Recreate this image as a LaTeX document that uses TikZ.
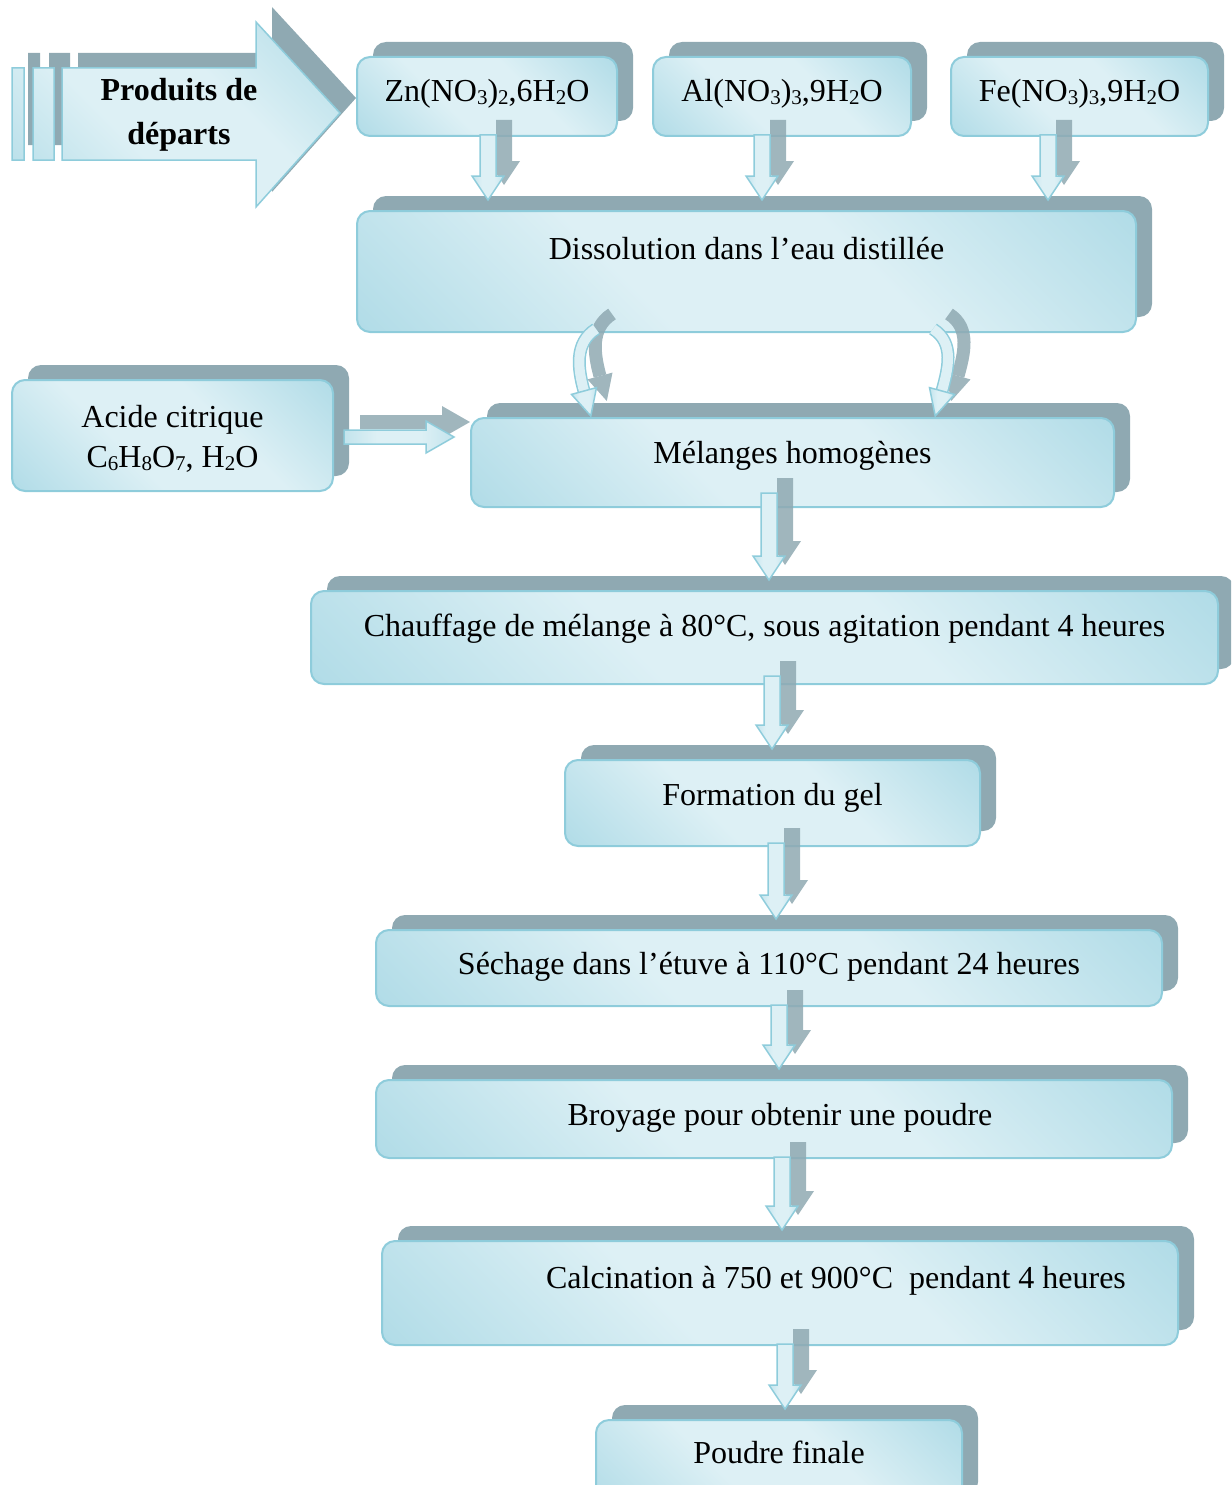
\documentclass[tikz,border=0pt]{standalone}
\usepackage{fontspec}
\setmainfont{Liberation Serif}
\usetikzlibrary{calc,shadows}
\definecolor{bleuC}{HTML}{DDF0F5}
\definecolor{bleuF}{HTML}{97D0DF}
\definecolor{bord}{HTML}{8ECCDB}
\definecolor{ombre}{HTML}{8FA9B2}
\pgfdeclarehorizontalshading{verre}{100bp}{color(0bp)=(bleuF); color(40bp)=(bleuC); color(60bp)=(bleuC); color(100bp)=(bleuF)}
\tikzset{
  boite/.style={draw=bord, line width=2pt, rounded corners=13pt, shading=verre, shading angle=45,
    general shadow={fill=ombre, shadow xshift=16pt, shadow yshift=15pt},
    font=\fontsize{32}{40}\selectfont, inner sep=0pt},
  ligne/.style={text height=22pt, text depth=#1},
  fleche/.style={draw=bord, line width=1.5pt, shading=verre, shading angle=0},
  ombrefleche/.style={fill=ombre, fill opacity=.85, transform canvas={shift={(16pt,15pt)}}},
  courbe/.style={draw=bord, line width=1.5pt, double=bleuC, double distance=10pt},
  ombrecourbe/.style={draw=ombre, draw opacity=.85, line width=13pt, transform canvas={shift={(16pt,15pt)}}},
}
% indice chimique
\newcommand\ind[1]{\raisebox{-3pt}{\fontsize{21}{21}\selectfont #1}}
% fleche verticale : [depart], source, cible, decalage en x
\newcommand\flechebas[4][2]{%
  \foreach \st in {ombrefleche,fleche}
    \path[\st] let \p1=($(#2)+(#4,0)$), \p2=(#3) in
      (\x1-8pt,\y1+#1pt) -- (\x1+8pt,\y1+#1pt) -- (\x1+8pt,\y2+34pt) -- (\x1+16pt,\y2+34pt)
      -- (\x1,\y2+10pt) -- (\x1-16pt,\y2+34pt) -- (\x1-8pt,\y2+34pt) -- cycle;
}
\begin{document}
\begin{tikzpicture}[x=1pt,y=-1pt]
\useasboundingbox (0,0) rectangle (1231,1485);
\clip (0,0) rectangle (1231,1485);

% grande fleche
\fill[ombre, transform canvas={shift={(16pt,15pt)}}] (62,68) -- (256,68) -- (256,22) -- (340,113)
  -- (256,207) -- (256,160) -- (62,160) -- cycle (12,68) rectangle (24,160) (33,68) rectangle (54,160);
\path[fleche, shading angle=45] (62,68) -- (256,68) -- (256,22) -- (340,113)
  -- (256,207) -- (256,160) -- (62,160) -- cycle (12,68) rectangle (24,160) (33,68) rectangle (54,160);
\node[font=\fontsize{32}{44}\selectfont\bfseries, align=center] (produits) at (179,115) {Produits de\\départs};

\node[boite, ligne=11pt, minimum width=260pt, minimum height=79pt] (zn) at (487,96.5) {Zn(NO\ind{3})\ind{2},6H\ind{2}O};
\node[boite, ligne=11pt, minimum width=258pt, minimum height=79pt] (al) at (782,96.5) {Al(NO\ind{3})\ind{3},9H\ind{2}O};
\node[boite, ligne=11pt, minimum width=257pt, minimum height=79pt] (fe) at (1079.5,96.5) {Fe(NO\ind{3})\ind{3},9H\ind{2}O};
\node[boite, ligne=47pt, minimum width=779pt, minimum height=121pt] (dissol) at (746.5,271.5) {Dissolution dans l’eau distillée};
\node[boite, align=center, minimum width=321pt, minimum height=111pt] (acide) at (172.5,435.5) {\rule{0pt}{28pt}Acide citrique\\C\ind{6}H\ind{8}O\ind{7}, H\ind{2}O};
\node[boite, ligne=21pt, minimum width=643pt, minimum height=89pt] (melange) at (792.5,462.5) {Mélanges homogènes};
\node[boite, ligne=25pt, minimum width=907pt, minimum height=93pt] (chauffe) at (764.5,637.5) {Chauffage de mélange à 80°C, sous agitation pendant 4 heures};
\node[boite, ligne=18pt, minimum width=415pt, minimum height=86pt] (gel) at (772.5,803) {Formation du gel};
\node[boite, ligne=10pt, minimum width=786pt, minimum height=76pt] (sechage) at (769,968) {Séchage dans l’étuve à 110°C pendant 24 heures};
\node[boite, ligne=10pt, minimum width=796pt, minimum height=78pt] (broyage) at (774,1119) {\hspace*{12pt}Broyage pour obtenir une poudre};
\node[boite, ligne=32pt, minimum width=796pt, minimum height=104pt] (calcin) at (780,1293) {\hspace*{112pt}Calcination à 750 et 900°C\ \ pendant 4 heures};
\node[boite, ligne=26pt, minimum width=366pt, minimum height=90pt] (poudre) at (779,1465) {Poudre finale};

\flechebas{zn.south}{dissol.north}{1}
\flechebas{al.south}{dissol.north}{-20}
\flechebas{fe.south}{dissol.north}{-31.5}
\flechebas[15]{melange.south}{chauffe.north}{-23.5}
\flechebas[9]{chauffe.south}{gel.north}{7.5}
\flechebas[4]{gel.south}{sechage.north}{3.5}
\flechebas{sechage.south}{broyage.north}{10}
\flechebas{broyage.south}{calcin.north}{8}
\flechebas{calcin.south}{poudre.north}{5}

% acide -> melanges
\foreach \st in {ombrefleche,fleche}
  \path[\st] let \p1=($(acide.east)+(10,1.5)$), \p2=($(melange.west)+(-16,0)$) in
    (\x1,\y1-7pt) -- (\x2-28pt,\y1-7pt) -- (\x2-28pt,\y1-16pt) -- (\x2,\y1)
    -- (\x2-28pt,\y1+16pt) -- (\x2-28pt,\y1+7pt) -- (\x1,\y1+7pt) -- cycle;

% fleches courbes
\coordinate (fg) at ($(melange.north)+(-208.5,-26)$);
\coordinate (fd) at ($(melange.north)+(149.5,-26)$);
\foreach \st/\sf in {ombrecourbe/ombrefleche,courbe/fleche}{
  \draw[\st] ($(dissol.south)+(-150.5,-4)$) .. controls +(-22,14) and +(-6,-22) .. (fg);
  \path[\sf] (fg) +(-12.5,3.4) -- +(6.8,25) -- +(12.5,-3.4) -- cycle;
  \draw[\st] ($(dissol.south)+(186.5,-4)$) .. controls +(22,14) and +(6,-22) .. (fd);
  \path[\sf] (fd) +(12.5,3.4) -- +(-6.8,25) -- +(-12.5,-3.4) -- cycle;
}
\end{tikzpicture}
\end{document}
